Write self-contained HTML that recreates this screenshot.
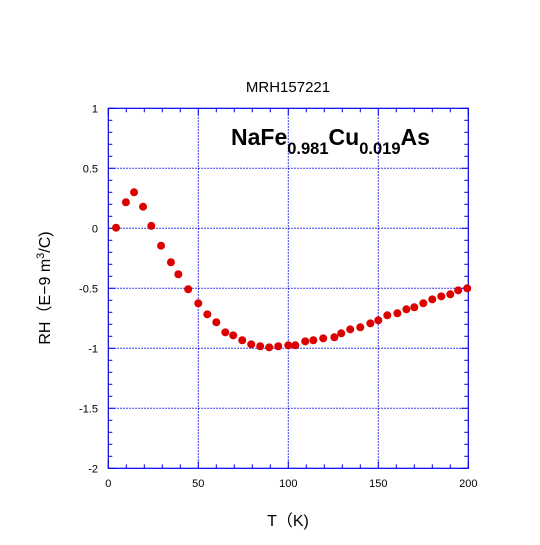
<!DOCTYPE html>
<html><head><meta charset="utf-8"><style>
body{margin:0;background:#fff;}
svg text{font-family:"Liberation Sans","Noto Sans CJK JP",sans-serif;}
</style></head><body>
<svg id="chart" width="540" height="540" xmlns="http://www.w3.org/2000/svg">
<rect width="540" height="540" fill="#fff"/>
<text x="288" y="92" font-size="15" text-anchor="middle">MRH157221</text>
<g id="grid"></g>
<g id="ticks"></g>
<rect x="108.3" y="108.3" width="360" height="360" fill="none" stroke="#0000ee" stroke-width="1.2"/>
<g id="points"></g>
<text x="231" y="145" font-size="23" font-weight="bold">NaFe<tspan font-size="16.5" dy="9">0.981</tspan><tspan dy="-9">Cu</tspan><tspan font-size="16.5" dy="9">0.019</tspan><tspan dy="-9">As</tspan></text>
<text transform="translate(50,288) rotate(-90)" font-size="16" text-anchor="middle">RH（E−9 m<tspan font-size="11" dy="-6">3</tspan><tspan dy="6">/C)</tspan></text>
<text x="288" y="526" font-size="16" text-anchor="middle">T（K)</text>
</svg>
<script>
const xTicks=[0,50,100,150,200];
const yTicks=[1,0.5,0,-0.5,-1,-1.5,-2];
const yTickLabels=["1","0.5","0","-0.5","-1","-1.5","-2"];
const temps=[4.3,9.8,14.3,19.3,23.9,29.3,34.8,38.9,44.4,50,55,60,65,69.4,74.4,79.4,84.4,89.4,94.4,100,103.9,109.4,113.9,119.4,125.6,129.4,134.4,140,145.6,150,155,160.6,165.6,170,175,180,185,190,194.4,199.4];
const rh=[0.005,0.217,0.30,0.18,0.02,-0.145,-0.283,-0.383,-0.508,-0.625,-0.717,-0.783,-0.867,-0.892,-0.933,-0.967,-0.983,-0.992,-0.983,-0.975,-0.975,-0.942,-0.933,-0.917,-0.908,-0.875,-0.842,-0.825,-0.792,-0.767,-0.725,-0.708,-0.675,-0.658,-0.625,-0.592,-0.567,-0.55,-0.517,-0.5];
const NS="http://www.w3.org/2000/svg";
const X=v=>108.3+(v-0)/200*360, Y=v=>108.3+(1-v)/3*360;
function mk(tag,at,parent){const e=document.createElementNS(NS,tag);for(const k in at)e.setAttribute(k,at[k]);parent.appendChild(e);return e;}
const grid=document.getElementById('grid'),ticks=document.getElementById('ticks'),pts=document.getElementById('points');
xTicks.forEach(v=>{
 if(v>0&&v<200){const l=mk('line',{x1:X(v),x2:X(v),y1:108.3,y2:468.3,stroke:'#0000ee','stroke-dasharray':'1.5,1.5'},grid);
 
 }
 const t=mk('text',{x:X(v),y:487,'font-size':11,'text-anchor':'middle'},ticks);t.textContent=v;
 
 
});
yTicks.forEach((v,i)=>{
 if(v<1&&v>-2){const l=mk('line',{x1:108.3,x2:468.3,y1:Y(v),y2:Y(v),stroke:'#0000ee','stroke-dasharray':'1.5,1.5'},grid);
 
 }
 const t=mk('text',{x:98,y:Y(v)+4,'font-size':11,'text-anchor':'end'},ticks);t.textContent=yTickLabels[i];
 
 
});
for(let v=0;v<=200;v+=10){const L=v%50===0?7:4;
 mk('line',{x1:X(v),x2:X(v),y1:468.3,y2:468.3-L,stroke:'#0000ee'},ticks);
 mk('line',{x1:X(v),x2:X(v),y1:108.3,y2:108.3+L,stroke:'#0000ee'},ticks);}
for(let k=-20;k<=10;k++){const v=k/10,L=k%5===0?7:4;
 mk('line',{x1:108.3,x2:108.3+L,y1:Y(v),y2:Y(v),stroke:'#0000ee'},ticks);
 mk('line',{x1:468.3,x2:468.3-L,y1:Y(v),y2:Y(v),stroke:'#0000ee'},ticks);}
temps.forEach((t,i)=>{
 const c=mk('circle',{cx:X(t),cy:Y(rh[i]),r:4,fill:'#dd0000'},pts);
 
 
});
</script>
</body></html>
